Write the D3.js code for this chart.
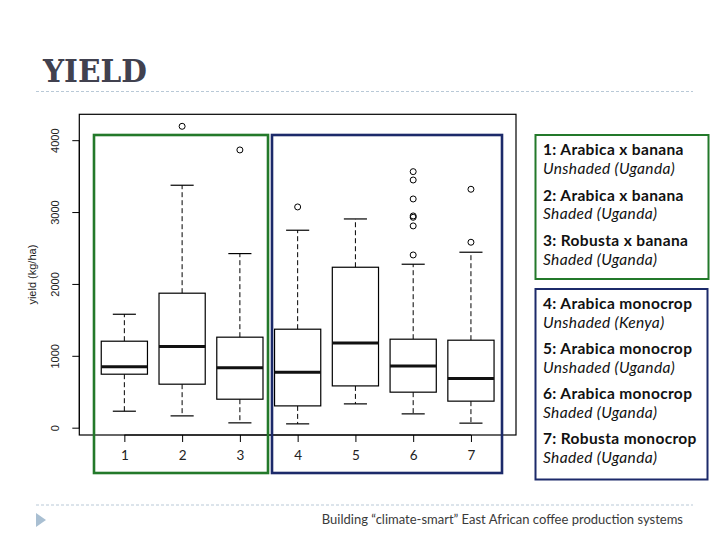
<!DOCTYPE html>
<html>
<head>
<meta charset="utf-8">
<script src="https://cdn.jsdelivr.net/npm/d3@7"></script>
<style>
    html, body { margin: 0; padding: 0; background: #fff; }
    svg { display: block; }
</style>
</head>
<body>
<div id="chart"></div>
<script>
var groups = [1, 2, 3, 4, 5, 6, 7];
var lowWhisker = [236, 171, 74, 60, 338, 199, 70];
var q1 = [751, 612, 403, 310, 588, 501, 376];
var median = [853, 1135, 839, 779, 1186, 866, 690];
var q3 = [1210, 1878, 1266, 1377, 2239, 1238, 1224];
var highWhisker = [1585, 3380, 2429, 2754, 2911, 2281, 2448];
var outliers = [[], [4200], [3871], [3078], [], [2410, 2814, 2934, 2953, 3189, 3453, 3569], [2587, 3324]];
var yTicks = [0, 1000, 2000, 3000, 4000];

var legendBanana = [
    ['1: Arabica x banana', 'Unshaded (Uganda)'],
    ['2: Arabica x banana', 'Shaded (Uganda)'],
    ['3: Robusta x banana', 'Shaded (Uganda)']
];
var legendMono = [
    ['4: Arabica monocrop', 'Unshaded (Kenya)'],
    ['5: Arabica monocrop', 'Unshaded (Uganda)'],
    ['6: Arabica monocrop', 'Shaded (Uganda)'],
    ['7: Robusta monocrop', 'Shaded (Uganda)']
];

(function()
{
    var green = '#23792a', navy = '#1c2a6a', slideFont = 'Lato, "Open Sans", sans-serif';

    var svg = d3.select('#chart').append('svg')
        .attr('width', 728)
        .attr('height', 546);

    svg.append('rect').attr('width', 728).attr('height', 546).attr('fill', '#fff');

    // slide title and rules
    svg.append('text')
        .attr('x', 43)
        .attr('y', 82)
        .attr('textLength', 104)
        .attr('lengthAdjust', 'spacingAndGlyphs')
        .style('font-family', '"DejaVu Serif", serif')
        .style('font-weight', 'bold')
        .style('font-size', '31px')
        .attr('fill', '#41414f')
        .text('YIELD');

    [91.5, 505].forEach(function(y)
    {
        svg.append('line')
            .attr('x1', 36).attr('x2', 693)
            .attr('y1', y).attr('y2', y)
            .attr('stroke', '#b9c9d7')
            .attr('stroke-dasharray', '3,2');
    });

    svg.append('path')
        .attr('d', 'M36,513L46,520L36,527Z')
        .attr('fill', '#a9bfd2');

    svg.append('text')
        .attr('x', 683)
        .attr('y', 524)
        .attr('text-anchor', 'end')
        .style('font-family', slideFont)
        .style('font-size', '13px')
        .attr('fill', '#3a3a3a')
        .text('Building \u201cclimate-smart\u201d East African coffee production systems');

    // plot
    var x = d3.scaleLinear().domain([0.22, 7.78]).range([79.3, 516]),
        y = d3.scaleLinear().domain([-95, 4367]).range([435, 114.3]),
        unit = x(2) - x(1);

    var yAxis = svg.append('g')
        .attr('transform', 'translate(79.3,0)')
        .call(d3.axisLeft(y).tickValues(yTicks).tickFormat(d3.format('d')).tickSize(7).tickPadding(0).tickSizeOuter(0));
    yAxis.select('.domain').attr('d', 'M0,' + y(0) + 'V' + y(4000));
    yAxis.selectAll('text')
        .attr('x', 0).attr('dy', null)
        .attr('text-anchor', 'middle')
        .attr('transform', function(d)
        {
            return 'translate(-20,' + y(d) + ') rotate(-90)';
        })
        .attr('y', 0)
        .style('font-family', '"Liberation Sans", Arial, sans-serif')
        .style('font-size', '11px')
        .attr('fill', '#222');
    yAxis.selectAll('.tick').attr('transform', null);
    yAxis.selectAll('.tick line').attr('y1', function(d) { return y(d); }).attr('y2', function(d) { return y(d); });

    var xAxis = svg.append('g')
        .attr('transform', 'translate(0,435)')
        .call(d3.axisBottom(x).tickValues(groups).tickFormat(d3.format('d')).tickSize(7).tickPadding(8).tickSizeOuter(0));
    xAxis.select('.domain').attr('d', 'M' + x(1) + ',0H' + x(7));
    xAxis.selectAll('text')
        .style('font-family', slideFont)
        .style('font-size', '13.5px')
        .attr('fill', '#222');

    svg.append('text')
        .attr('transform', 'translate(36,' + ((114.3 + 435) / 2) + ') rotate(-90)')
        .attr('text-anchor', 'middle')
        .style('font-family', '"Liberation Sans", Arial, sans-serif')
        .style('font-size', '11px')
        .attr('fill', '#222')
        .text('yield (kg/ha)');

    svg.append('rect')
        .attr('x', 79.3).attr('y', 114.3)
        .attr('width', 516 - 79.3).attr('height', 435 - 114.3)
        .attr('fill', 'none').attr('stroke', '#000').attr('stroke-width', 1.2);

    var box = svg.selectAll('g.box').data(groups).enter().append('g').attr('class', 'box');

    box.append('line')
        .attr('x1', function(d) { return x(d); }).attr('x2', function(d) { return x(d); })
        .attr('y1', function(d, i) { return y(q3[i]); }).attr('y2', function(d, i) { return y(highWhisker[i]); })
        .attr('stroke', '#000').attr('stroke-dasharray', '5,3');
    box.append('line')
        .attr('x1', function(d) { return x(d); }).attr('x2', function(d) { return x(d); })
        .attr('y1', function(d, i) { return y(q1[i]); }).attr('y2', function(d, i) { return y(lowWhisker[i]); })
        .attr('stroke', '#000').attr('stroke-dasharray', '5,3');

    [highWhisker, lowWhisker].forEach(function(arr)
    {
        box.append('line')
            .attr('x1', function(d) { return x(d - 0.2); }).attr('x2', function(d) { return x(d + 0.2); })
            .attr('y1', function(d, i) { return y(arr[i]); }).attr('y2', function(d, i) { return y(arr[i]); })
            .attr('stroke', '#000').attr('stroke-width', 1.2);
    });

    box.append('rect')
        .attr('x', function(d) { return x(d - 0.4); })
        .attr('width', unit * 0.8)
        .attr('y', function(d, i) { return y(q3[i]); })
        .attr('height', function(d, i) { return y(q1[i]) - y(q3[i]); })
        .attr('fill', '#fff').attr('stroke', '#000').attr('stroke-width', 1.2);

    box.append('line')
        .attr('x1', function(d) { return x(d - 0.4); }).attr('x2', function(d) { return x(d + 0.4); })
        .attr('y1', function(d, i) { return y(median[i]); }).attr('y2', function(d, i) { return y(median[i]); })
        .attr('stroke', '#111').attr('stroke-width', 3);

    box.each(function(d, i)
    {
        d3.select(this).selectAll('circle').data(outliers[i]).enter().append('circle')
            .attr('cx', x(d))
            .attr('cy', function(v) { return y(v); })
            .attr('r', 3)
            .attr('fill', 'none').attr('stroke', '#000').attr('stroke-width', 1);
    });

    // group frames
    svg.append('rect').attr('x', 94).attr('y', 135).attr('width', 174).attr('height', 338)
        .attr('fill', 'none').attr('stroke', green).attr('stroke-width', 2.6);
    svg.append('rect').attr('x', 272).attr('y', 135).attr('width', 230).attr('height', 338)
        .attr('fill', 'none').attr('stroke', navy).attr('stroke-width', 2.6);

    // legends
    var drawLegend = function(items, top, height, width, color, step)
    {
        svg.append('rect').attr('x', 535.5).attr('y', top).attr('width', width).attr('height', height)
            .attr('fill', '#fff').attr('stroke', color).attr('stroke-width', 2);

        var g = svg.selectAll(null).data(items).enter().append('g')
            .attr('transform', function(d, i) { return 'translate(543,' + (top + 20 + i * step) + ')'; });

        g.append('text')
            .style('font-family', slideFont)
            .style('font-weight', 'bold')
            .style('font-size', '15.5px')
            .style('letter-spacing', '0.35px')
            .attr('fill', '#111')
            .text(function(d) { return d[0]; });
        g.append('text')
            .attr('y', 18.5)
            .style('font-family', slideFont)
            .style('font-style', 'italic')
            .style('font-size', '15.5px')
            .style('letter-spacing', '0.35px')
            .attr('fill', '#111')
            .text(function(d) { return d[1]; });
    };

    drawLegend(legendBanana, 135, 144, 173, green, 45.5);
    drawLegend(legendMono, 289, 190.5, 172, navy, 45);
})();
</script>
</body>
</html>
